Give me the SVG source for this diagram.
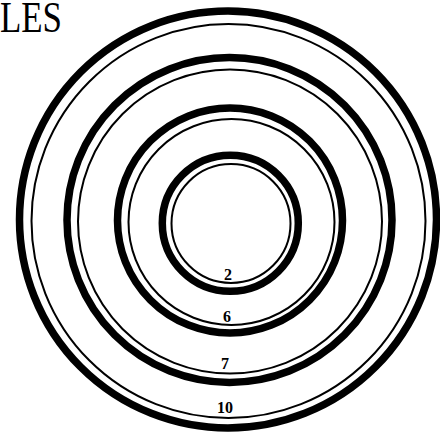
<svg xmlns="http://www.w3.org/2000/svg" width="440" height="437" viewBox="0 0 440 437">
<style>
.thick{fill:none;stroke:#000;stroke-width:7.5}
.thin{fill:none;stroke:#000;stroke-width:2}
.lbl{font-family:"Liberation Serif",serif;font-weight:bold;font-size:16px;text-anchor:middle;fill:#000}
.title{font-family:"Liberation Serif",serif;font-size:44px;fill:#000}
</style>
<rect width="440" height="437" fill="#fff"/>
<text class="title" x="0" y="32" textLength="62" lengthAdjust="spacingAndGlyphs">LES</text>
<g id="ring10">
<circle class="thick" cx="228" cy="219.5" r="208.5"/>
<circle class="thin" cx="228.5" cy="221" r="197"/>
<text class="lbl" x="225" y="413">10</text>
</g>
<g id="ring7">
<circle class="thick" cx="229.5" cy="220" r="162.5"/>
<circle class="thin" cx="230" cy="221.5" r="152"/>
<text class="lbl" x="225" y="369">7</text>
</g>
<g id="ring6">
<circle class="thick" cx="230" cy="220.5" r="112.5"/>
<circle class="thin" cx="231.5" cy="222" r="103"/>
<text class="lbl" x="227" y="322">6</text>
</g>
<g id="ring2">
<circle class="thick" cx="230.3" cy="223.3" r="68"/>
<circle class="thin" cx="231" cy="223.5" r="59.5"/>
<text class="lbl" x="228" y="280">2</text>
</g>
</svg>
